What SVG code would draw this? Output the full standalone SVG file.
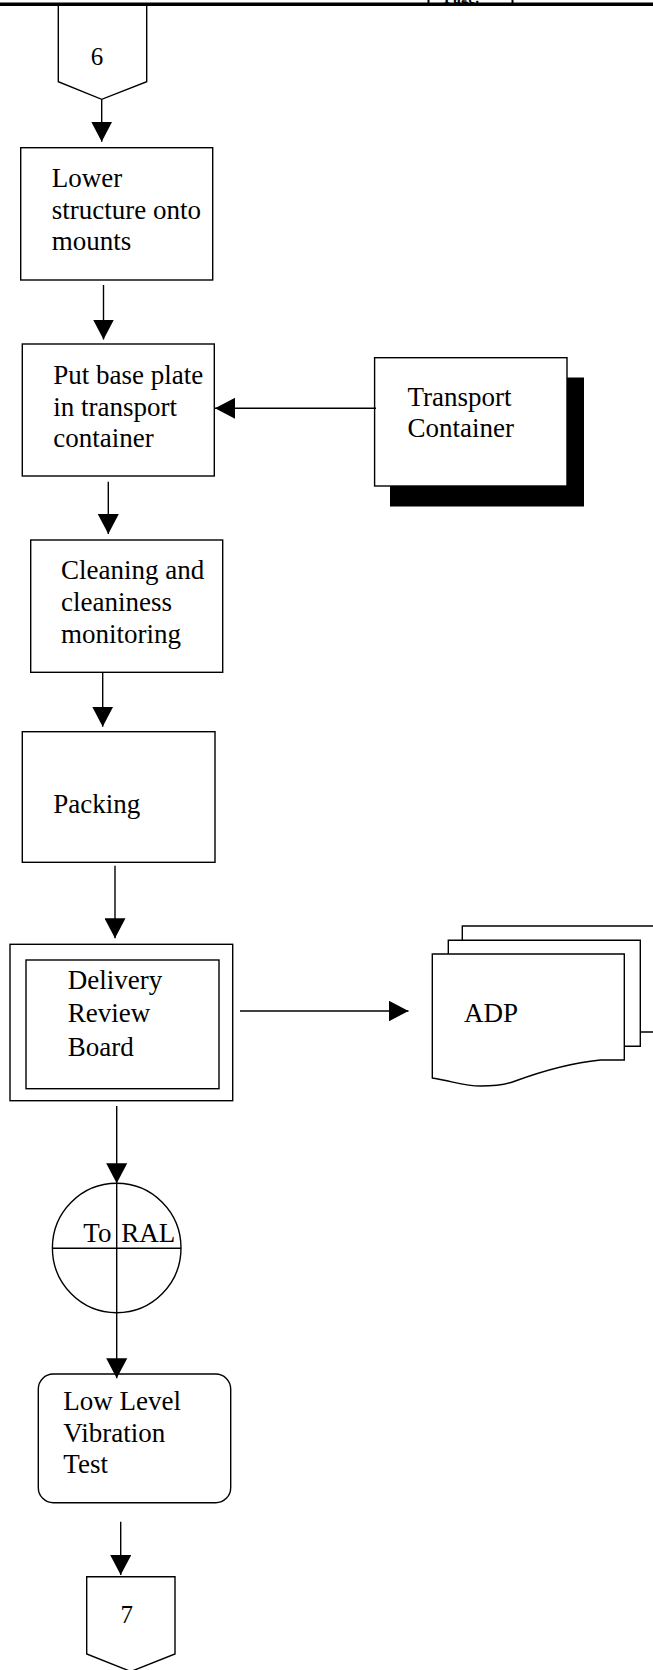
<svg xmlns="http://www.w3.org/2000/svg" width="653" height="1670" viewBox="0 0 653 1670">
<style>
.s{fill:none;stroke:#000;stroke-width:1.4}
.w{fill:#fff;stroke:#000;stroke-width:1.4}
.t{font-family:"Liberation Serif","Times New Roman",serif;font-size:27px;fill:#000}
.n{font-family:"Liberation Serif","Times New Roman",serif;font-size:25px;fill:#000;text-anchor:middle}
.c{fill:none;stroke:#000;stroke-width:1.4;marker-end:url(#ah)}
</style>
<defs>
<marker id="ah" viewBox="0 0 20 21" refX="20" refY="10.5" markerWidth="20" markerHeight="21" markerUnits="userSpaceOnUse" orient="auto">
<path d="M0,0 L20,10.5 L0,21 Z" fill="#000"/>
</marker>
<path id="doc" d="M0,0 H192 V106 H168 C138,109 113,116 83,127 C73,131 63,132 48,132 C33,132 23,128 0,124 Z"/>
</defs>
<rect width="653" height="1670" fill="#fff"/>
<g id="header">
<line x1="0" y1="4.3" x2="653" y2="4.3" stroke="#000" stroke-width="3.4"/>
<line x1="428.5" y1="0" x2="428.5" y2="4" stroke="#000" stroke-width="2"/>
<line x1="512.5" y1="0" x2="512.5" y2="4" stroke="#000" stroke-width="2"/>
<text x="444" y="2.6" font-family="Liberation Serif, serif" font-size="15" font-weight="bold">Page:</text>
</g>
<g id="conn6">
<path class="s" d="M58.3,4 V81.7 L101.7,99.3 L146.7,81.7 V4"/>
<text class="n" x="97" y="65">6</text>
</g>
<g id="lower">
<rect class="s" x="20.7" y="147.7" width="192" height="132.3"/>
<text class="t" x="51.7" y="187">Lower</text>
<text class="t" x="51.7" y="218.5">structure onto</text>
<text class="t" x="51.7" y="250">mounts</text>
</g>
<g id="putbase">
<rect class="s" x="22.3" y="344" width="192" height="132"/>
<text class="t" x="53.3" y="384">Put base plate</text>
<text class="t" x="53.3" y="415.5">in transport</text>
<text class="t" x="53.3" y="447.3">container</text>
</g>
<g id="transport">
<rect x="390" y="377.5" width="194" height="129" fill="#000"/>
<rect class="w" x="374.6" y="357.7" width="192.4" height="128.3"/>
<text class="t" x="407.5" y="405.7">Transport</text>
<text class="t" x="407.5" y="437.3">Container</text>
</g>
<g id="cleaning">
<rect class="s" x="30.7" y="540" width="192" height="132.3"/>
<text class="t" x="61" y="579.3">Cleaning and</text>
<text class="t" x="61" y="611">cleaniness</text>
<text class="t" x="61" y="643.3">monitoring</text>
</g>
<g id="packing">
<rect class="s" x="22.3" y="731.7" width="192.7" height="130.6"/>
<text class="t" x="53.3" y="812.7">Packing</text>
</g>
<g id="drb">
<rect class="s" x="10" y="944.3" width="222.7" height="156.4"/>
<rect class="s" x="26" y="960" width="193" height="128.7"/>
<text class="t" x="67.7" y="989">Delivery</text>
<text class="t" x="67.7" y="1021.7">Review</text>
<text class="t" x="67.7" y="1055.7">Board</text>
</g>
<g id="adp">
<use href="#doc" class="w" transform="translate(462.3,926)"/>
<use href="#doc" class="w" transform="translate(448.3,940.3)"/>
<use href="#doc" class="w" transform="translate(432.3,954)"/>
<text class="t" x="464" y="1021.7">ADP</text>
</g>
<g id="toral">
<ellipse class="s" cx="116.7" cy="1248" rx="64.3" ry="64.7"/>
<line class="s" x1="52.4" y1="1248.3" x2="181" y2="1248.3"/>
<line class="s" x1="116.7" y1="1183.3" x2="116.7" y2="1312.7"/>
<text class="t" x="83.3" y="1241.7">To <tspan x="121.2">RAL</tspan></text>
</g>
<g id="lowlevel">
<rect class="s" x="38.3" y="1374" width="192.4" height="128.7" rx="15" ry="15"/>
<text class="t" x="63.3" y="1410">Low Level</text>
<text class="t" x="63.3" y="1441.7">Vibration</text>
<text class="t" x="63.3" y="1473.3">Test</text>
</g>
<g id="conn7">
<path class="s" d="M86.7,1576.7 H175 V1654 L130.8,1671.5 L86.7,1654 Z"/>
<text class="n" x="126.7" y="1623.3">7</text>
</g>
<g id="connectors">
<line class="c" x1="101.7" y1="99.3" x2="101.7" y2="141.7"/>
<line class="c" x1="103.5" y1="285" x2="103.5" y2="339.5"/>
<line class="c" x1="376" y1="408.3" x2="215" y2="408.3"/>
<line class="c" x1="108.3" y1="481.7" x2="108.3" y2="534"/>
<line class="c" x1="102.7" y1="672.3" x2="102.7" y2="726.7"/>
<line class="c" x1="115" y1="865.7" x2="115" y2="938.3"/>
<line class="c" x1="240" y1="1011" x2="408.5" y2="1011"/>
<line class="c" x1="116.7" y1="1106" x2="116.7" y2="1183.3"/>
<line class="c" x1="116.7" y1="1312.7" x2="116.7" y2="1378.3"/>
<line class="c" x1="120.7" y1="1521.7" x2="120.7" y2="1575"/>
</g>
</svg>
